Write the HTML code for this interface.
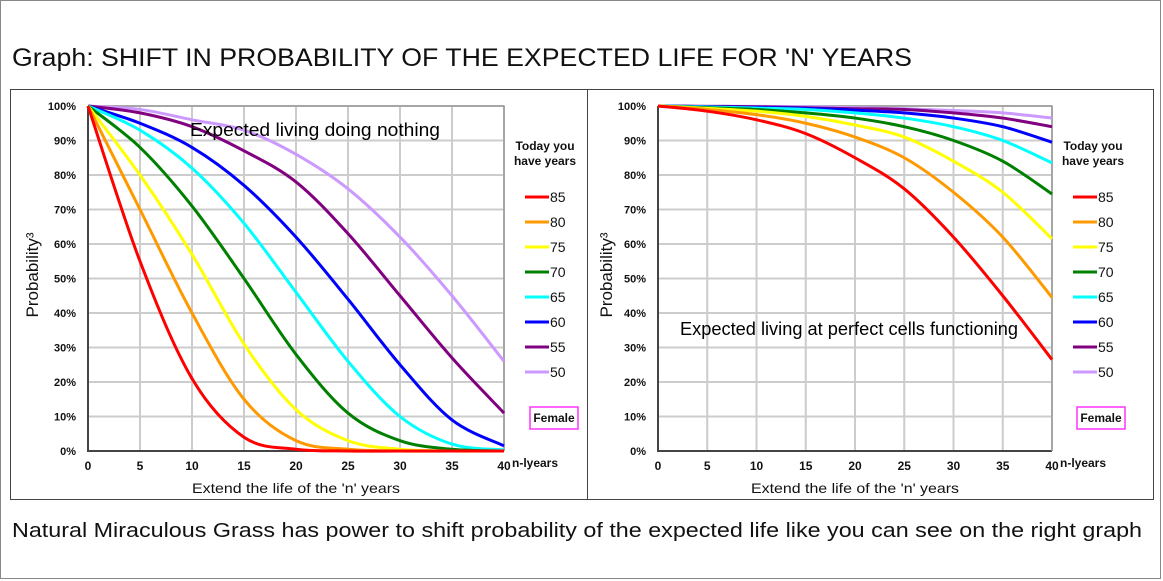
<!DOCTYPE html>
<html><head><meta charset="utf-8">
<style>
body{margin:0;background:#fff;}
svg{display:block;font-family:"Liberation Sans",Arial,sans-serif;}
</style></head>
<body>
<svg id="svg" width="1163" height="581" viewBox="0 0 1163 581">
<rect x="0.5" y="0.5" width="1160" height="578" fill="#fff" stroke="#888"/>
<text x="12" y="66" font-size="25" fill="#111" textLength="900" lengthAdjust="spacingAndGlyphs">Graph: SHIFT IN PROBABILITY OF THE EXPECTED LIFE FOR 'N' YEARS</text>
<rect x="10.5" y="89.5" width="577" height="410" fill="#fff" stroke="#444"/>
<rect x="587.5" y="89.5" width="566" height="410" fill="#fff" stroke="#444"/>
<text x="12" y="537" font-size="20" fill="#111" textLength="1130" lengthAdjust="spacingAndGlyphs">Natural Miraculous Grass has power to shift probability of the expected life like you can see on the right graph</text>
<g id="left"></g>
<g id="right"></g>
</svg>
<script>
const xYears = [0,5,10,15,20,25,30,35,40];
const ages = ["85","80","75","70","65","60","55","50"];
const colors = ["#ff0000","#ff9900","#ffff00","#008000","#00ffff","#0000ff","#800080","#cc99ff"];
const yTicks = [0,10,20,30,40,50,60,70,80,90,100];
const left85 = [100,55,21,4,0.5,0,0,0,0];
const left80 = [100,70,40,15,3,0.5,0,0,0];
const left75 = [100,80,57,31,12,3,0.5,0,0];
const left70 = [100,88,71,50,28,11,3,0.5,0];
const left65 = [100,93,82,66,46,26,10,2,0.3];
const left60 = [100,95,88,77,62,44,25,9,1.5];
const left55 = [100,98,94,87,78,63,45,27,11];
const left50 = [100,99,96,93,86,76,62,45,26];
const right85 = [100,98.5,96,92,85,76,62,45,26.5];
const right80 = [100,99,97.5,95,91,85,75,62,44.5];
const right75 = [100,99.3,98.5,97,94.5,91,84,75,61.5];
const right70 = [100,99.5,99,98,96.5,94,90,84,74.5];
const right65 = [100,99.7,99.4,99,98,96.5,94,90,83.5];
const right60 = [100,99.8,99.6,99.3,98.8,98,96.5,94,89.5];
const right55 = [100,99.9,99.8,99.5,99.2,99,98,96.5,94];
const right50 = [100,99.9,99.9,99.8,99.5,99.2,98.7,98,96.5];
const leftSeries = [left85,left80,left75,left70,left65,left60,left55,left50];
const rightSeries = [right85,right80,right75,right70,right65,right60,right55,right50];

const NS="http://www.w3.org/2000/svg";
function mk(parent,tag,attrs,text){const e=document.createElementNS(NS,tag);for(const k in attrs)e.setAttribute(k,attrs[k]);if(text!==undefined)e.textContent=text;parent.appendChild(e);return e;}

function drawChart(g,cfg,series,annot){
  const X0=cfg.x0,X1=cfg.x1,Y0=451,Y1=106;
  const sx=v=>X0+(v-0)/40*(X1-X0);
  const sy=v=>Y0-(v/100)*(Y0-Y1);
  xYears.forEach(v=>{if(v>0){const l=mk(g,'line',{x1:sx(v),x2:sx(v),y1:Y1,y2:Y0,stroke:'#cccccc','stroke-width':2});
    
    }});
  yTicks.forEach(v=>{if(v>0){const l=mk(g,'line',{x1:X0,x2:X1,y1:sy(v),y2:sy(v),stroke:'#cccccc','stroke-width':2});
    
    }});
  const ax=mk(g,'path',{d:`M${X0} ${Y1} V${Y0} H${X1}`,fill:'none',stroke:'#444','stroke-width':2});
  
  
  const rb=mk(g,'path',{d:`M${X0} ${Y1} H${X1} V${Y0}`,fill:'none',stroke:'#999','stroke-width':1.5});
  
  
  yTicks.forEach(v=>{const t=mk(g,'text',{x:X0-12,y:sy(v)+4,'text-anchor':'end','font-size':11,'font-weight':'bold',fill:'#111'},v+'%');
    
    });
  xYears.forEach(v=>{const t=mk(g,'text',{x:sx(v),y:470,'text-anchor':'middle','font-size':12,'font-weight':'bold',fill:'#111'},v);
    
    });
  const xt=mk(g,'text',{x:(X0+X1)/2,y:493,'text-anchor':'middle','font-size':14,fill:'#111',textLength:208,lengthAdjust:'spacingAndGlyphs'},"Extend the life of the 'n' years");
  
  
  const yt=mk(g,'text',{x:0,y:0,'text-anchor':'middle','font-size':17,fill:'#111',transform:`translate(${cfg.yx},275) rotate(-90)`},'Probability\u00b3');
  
  
  const nl=mk(g,'text',{x:X1+8,y:467,'font-size':12,'font-weight':'bold',fill:'#111'},'n-lyears');
  
  
  for(let i=series.length-1;i>=0;i--){
    const p=xYears.map((x,j)=>[sx(x),sy(series[i][j])]);
    let d=`M${p[0][0]} ${p[0][1]}`;
    for(let j=0;j<p.length-1;j++){
      const a=p[Math.max(j-1,0)],b=p[j],c=p[j+1],e=p[Math.min(j+2,p.length-1)];
      const c1=[b[0]+(c[0]-a[0])/6,b[1]+(c[1]-a[1])/6],c2=[c[0]-(e[0]-b[0])/6,c[1]-(e[1]-b[1])/6];
      d+=` C${c1[0]} ${c1[1]} ${c2[0]} ${c2[1]} ${c[0]} ${c[1]}`;
    }
    const l=mk(g,'path',{d:d,fill:'none',stroke:colors[i],'stroke-width':3});
    
    
  }
  const an=mk(g,'text',{x:annot.x,y:annot.y,'font-size':18,fill:'#000',textLength:annot.w,lengthAdjust:'spacingAndGlyphs'},annot.t);
  
  
  const lt1=mk(g,'text',{x:cfg.lx+20,y:150,'text-anchor':'middle','font-size':12,'font-weight':'bold',fill:'#111'},'Today you');
  
  
  const lt2=mk(g,'text',{x:cfg.lx+20,y:165,'text-anchor':'middle','font-size':12,'font-weight':'bold',fill:'#111'},'have years');
  
  
  ages.forEach((a,i)=>{
    const y=197+i*25;
    const ln=mk(g,'line',{x1:cfg.lx,x2:cfg.lx+24,y1:y,y2:y,stroke:colors[i],'stroke-width':3});
    
    
    const t=mk(g,'text',{x:cfg.lx+25,y:y+5,'font-size':14,fill:'#111'},a);
    
    
  });
  const fb=mk(g,'rect',{x:cfg.fx,y:407,width:48,height:22,fill:'#fff',stroke:'#ff33ff','stroke-width':1.5});
  
  
  const ft=mk(g,'text',{x:cfg.fx+24,y:422,'text-anchor':'middle','font-size':12,'font-weight':'bold',fill:'#111'},'Female');
  
  
}
drawChart(document.getElementById('left'),{x0:88,x1:504,yx:38,lx:525,fx:530},leftSeries,{x:190,y:136,w:250,t:'Expected living doing nothing'});
drawChart(document.getElementById('right'),{x0:658,x1:1052,yx:612,lx:1073,fx:1077},rightSeries,{x:680,y:335,w:338,t:'Expected living at perfect cells functioning'});
</script>
</body></html>
